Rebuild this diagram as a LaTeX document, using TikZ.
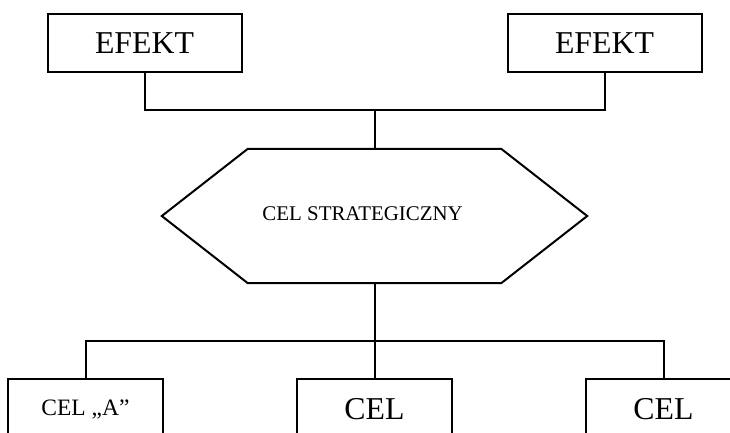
\documentclass[tikz,border=0pt]{standalone}
\usepackage{fontspec}
\setmainfont{Liberation Serif}
\begin{document}
\begin{tikzpicture}[x=1pt,y=-1pt,
  ln/.style={line width=2pt},
  box/.style={draw,line width=2pt,rectangle,inner sep=0pt,fill=white},
  big/.style={font=\fontsize{31.8}{36}\selectfont},
]
\useasboundingbox (0,0) rectangle (730,432);
\clip (0,0) rectangle (730,432);
% top boxes
\node[box,big,minimum width=194pt,minimum height=58pt] (e1) at (144.5,43) {EFEKT};
\node[box,big,minimum width=194pt,minimum height=58pt] (e2) at (604.5,43) {EFEKT};
% hexagon body
\node[inner sep=0pt,minimum width=253pt,minimum height=134pt] (hex) at (374.5,216) {};
\draw[ln,line join=miter] (hex.north west) -- (hex.north east) -- ([xshift=86pt]hex.east) -- (hex.south east) -- (hex.south west) -- ([xshift=-86pt]hex.west) -- cycle;
\node[font=\fontsize{20.9}{24}\selectfont,anchor=base] (hext) at (362.6,220) {CEL STRATEGICZNY};
% bottom boxes
\node[box,font=\fontsize{23.5}{28}\selectfont,minimum width=155pt,minimum height=61pt] (c1) at (85.5,409.5) {\raisebox{1pt}{CEL „A”}};
\node[box,big,minimum width=155pt,minimum height=61pt] (c2) at (374.5,409.5) {CEL};
\node[box,big,minimum width=155pt,minimum height=61pt] (c3) at (663.5,409.5) {CEL};
% junctions
\coordinate (j1) at (374.5,110);
\coordinate (j2) at (374.5,341);
% connectors
\draw[ln] (e1.south) |- (j1) -| (e2.south);
\draw[ln] (j1) -- (hex.north);
\draw[ln] (c1.north) |- (j2) -| (c3.north);
\draw[ln] (hex.south) -- (c2.north);
\end{tikzpicture}
\end{document}
